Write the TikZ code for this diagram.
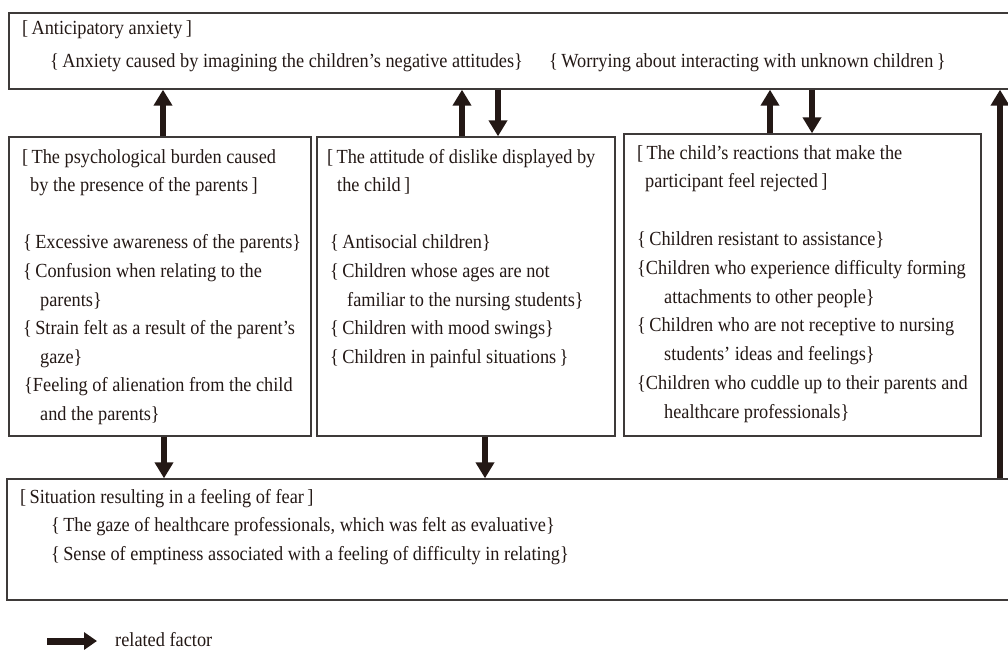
\documentclass[tikz,border=0pt]{standalone}
\usepackage{fontspec}
\setmainfont{Liberation Serif}[FakeStretch=0.915]
\usetikzlibrary{arrows.meta,fit}
\definecolor{boxc}{RGB}{62,58,57}
\definecolor{arrc}{RGB}{35,24,21}
\definecolor{txtc}{RGB}{35,24,21}
\tikzset{
  box/.style={draw=boxc, line width=1.4pt, inner sep=0pt},
  arr/.style={draw=arrc, line width=5.5pt, -{Triangle[length=16pt,width=18pt]}},
  legarr/.style={draw=arrc, line width=7pt, -{Triangle[length=13pt,width=17pt]}},
  txt/.style={anchor=base west, inner sep=0pt, text=txtc, font=\fontsize{20}{23}\selectfont},
}
\begin{document}
\begin{tikzpicture}[x=1pt,y=-1pt]
\useasboundingbox (0,0) rectangle (1008,649);
% boxes
\node[box, fit={(9,13) (1016,89)}] (top) {};
\node[box, fit={(9,137) (311,436)}] (left) {};
\node[box, fit={(317,137) (615,436)}] (mid) {};
\node[box, fit={(624,134) (981,436)}] (right) {};
\node[box, fit={(7,479) (1016,600)}] (bot) {};
% top texts
\node[txt] (t1) at (22,34) {[\,Anticipatory anxiety\,]};
\node[txt] (t2) at (50,67) {\{\,Anxiety caused by imagining the children’s negative attitudes\}};
\node[txt] (t3) at (549,67) {\{\,Worrying about interacting with unknown children\,\}};
% left texts
\foreach \xx/\yy/\tx [count=\i] in {
  22/163/{[\,The psychological burden caused},
  30/191.6/{by the presence of the parents\,]},
  23/248.8/{\{\,Excessive awareness of the parents\}},
  23/277.4/{\{\,Confusion when relating to the},
  40/306/{parents\}},
  23/334.6/{\{\,Strain felt as a result of the parent’s},
  40/363.2/{gaze\}},
  24/391.8/{\{Feeling of alienation from the child},
  40/420.4/{and the parents\}}}
  \node[txt] (l\i) at (\xx,\yy) {\tx};
% middle texts
\foreach \xx/\yy/\tx [count=\i] in {
  327/163/{[\,The attitude of dislike displayed by},
  337/191.6/{the child\,]},
  330/248.8/{\{\,Antisocial children\}},
  330/277.4/{\{\,Children whose ages are not},
  347/306/{familiar to the nursing students\}},
  330/334.6/{\{\,Children with mood swings\}},
  330/363.2/{\{\,Children in painful situations\,\}}}
  \node[txt] (m\i) at (\xx,\yy) {\tx};
% right texts
\foreach \xx/\yy/\tx [count=\i] in {
  637/159/{[\,The child’s reactions that make the},
  645/187.8/{participant feel rejected\,]},
  637/245.4/{\{\,Children resistant to assistance\}},
  637/274.2/{\{Children who experience difficulty forming},
  664/303/{attachments to other people\}},
  637/331.8/{\{\,Children who are not receptive to nursing},
  664/360.6/{students’ ideas and feelings\}},
  637/389.4/{\{Children who cuddle up to their parents and},
  664/418.2/{healthcare professionals\}}}
  \node[txt] (r\i) at (\xx,\yy) {\tx};
% bottom texts
\node[txt] (b1) at (20,503) {[\,Situation resulting in a feeling of fear\,]};
\node[txt] (b2) at (51,531) {\{\,The gaze of healthcare professionals, which was felt as evaluative\}};
\node[txt] (b3) at (51,560) {\{\,Sense of emptiness associated with a feeling of difficulty in relating\}};
% arrow x positions
\coordinate (u1) at (163,0);
\coordinate (u2) at (462,0);
\coordinate (d2) at (498,0);
\coordinate (u3) at (770,0);
\coordinate (d3) at (812,0);
\coordinate (ub) at (1000,0);
\coordinate (dl) at (164,0);
\coordinate (dm) at (485,0);
\draw[arr] (left.north -| u1) -- (top.south -| u1);
\draw[arr] (mid.north -| u2) -- (top.south -| u2);
\draw[arr] (top.south -| d2) -- (mid.north -| d2);
\draw[arr] (right.north -| u3) -- (top.south -| u3);
\draw[arr] (top.south -| d3) -- (right.north -| d3);
\draw[arr] (bot.north -| ub) -- (top.south -| ub);
\draw[arr] (left.south -| dl) -- (bot.north -| dl);
\draw[arr] (mid.south -| dm) -- (bot.north -| dm);
% legend
\coordinate (la) at (47,641);
\coordinate (lb) at (97,641);
\draw[legarr] (la) -- (lb);
\node[txt] (lt) at (115,646) {related factor};
\end{tikzpicture}
\end{document}
